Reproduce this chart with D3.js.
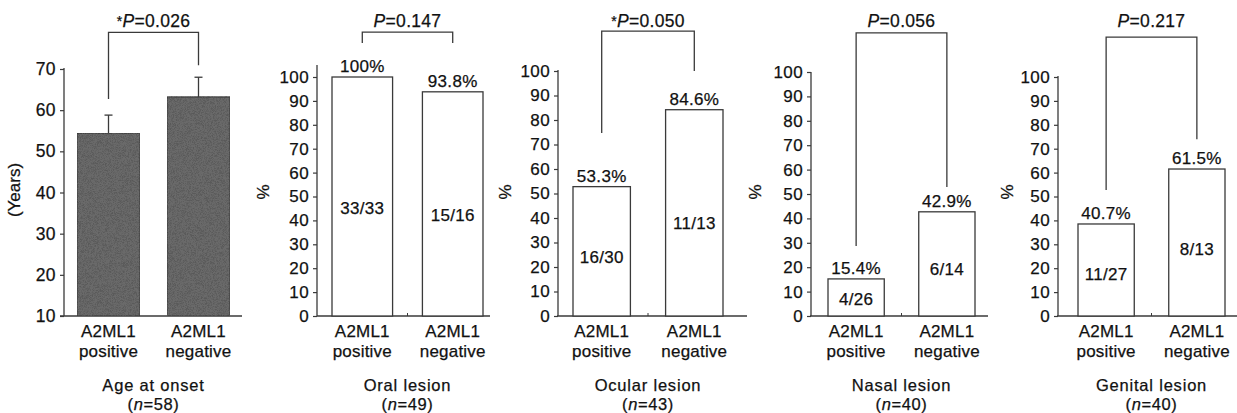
<!DOCTYPE html>
<html lang="en">
  <head>
    <meta charset="UTF-8" />
    <title>A2ML1 panels</title>
    <script src="https://cdn.jsdelivr.net/npm/d3@7"></script>
    <style>
      body { margin: 0; background: #fff; }
      text { font-family: "Liberation Sans", Arial, Helvetica, sans-serif; fill: #111; stroke: #111; stroke-width: 0.25px; }
    </style>
  </head>
  <body>
    <svg id="container" width="1237" height="413"></svg>
    <script>
      // values
      const categories = ["A2ML1 positive", "A2ML1 negative"];
      const panelTitles = ["Age at onset", "Oral lesion", "Ocular lesion", "Nasal lesion", "Genital lesion"];
      const panelN = [58, 49, 43, 40, 40];
      const pValues = ["0.026", "0.147", "0.050", "0.056", "0.217"];
      const significant = [true, false, true, false, false];

      // age panel: mean and top of the error bar (years)
      const ageMeans = [54.4, 63.2];
      const ageErrTop = [58.8, 68];
      const ageTicks = [10, 20, 30, 40, 50, 60, 70];

      // lesion panels: drawn bar height (%), printed percentage, counts
      const lesionValues = [[100, 93.8], [52.8, 84.2], [15.2, 42.7], [38.5, 61.5]];
      const lesionLabels = [["100%", "93.8%"], ["53.3%", "84.6%"], ["15.4%", "42.9%"], ["40.7%", "61.5%"]];
      const lesionCounts = [["33/33", "15/16"], ["16/30", "11/13"], ["4/26", "6/14"], ["11/27", "8/13"]];
      const pctTicks = [0, 10, 20, 30, 40, 50, 60, 70, 80, 90, 100];

      // layout of each panel (pixels), bracket in data units [top, leftEnd, rightEnd]
      const panels = [
        { axisX: 64, top: 69, lineTop: 68, xStart: 60, xEnd: 242, barL: 77, barR: 230, pad: 0.3, bracket: [78.9, 62.7, 70.9], yLabelX: 14, yLabel: "(Years)" },
        { axisX: 317, top: 77, lineTop: 65, xStart: 317, xEnd: 490, barL: 332, barR: 483, pad: 0.33, bracket: [118.8, 114.2, 114.2], yLabelX: 263, yLabel: "%" },
        { axisX: 558, top: 71, lineTop: 70, xStart: 557, xEnd: 747, barL: 573, barR: 723, pad: 0.38, bracket: [116.3, 74.7, 100], yLabelX: 505, yLabel: "%" },
        { axisX: 811, top: 72, lineTop: 72, xStart: 810, xEnd: 988, barL: 828, barR: 975, pad: 0.38, bracket: [116, 28.7, 52.9], yLabelX: 755, yLabel: "%" },
        { axisX: 1058, top: 77, lineTop: 76, xStart: 1057, xEnd: 1237, barL: 1078, barR: 1225, pad: 0.38, bracket: [116.7, 52.7, 74], yLabelX: 1007, yLabel: "%" },
      ];

      const baseY = 316;
      const ink = "#3a3a3a";
      const svg = d3.select("#container");

      // grainy fill for the age bars
      const defs = svg.append("defs");
      const f = defs.append("filter").attr("id", "grain").attr("x", 0).attr("y", 0).attr("width", 1).attr("height", 1);
      f.append("feTurbulence").attr("type", "fractalNoise").attr("baseFrequency", 1.6).attr("numOctaves", 2).attr("seed", 3).attr("result", "noise");
      f.append("feColorMatrix").attr("in", "noise").attr("type", "matrix")
        .attr("values", "0 0 0 0 0.1  0 0 0 0 0.1  0 0 0 0 0.1  0 0 0 -3.2 1.9").attr("result", "dark");
      f.append("feComposite").attr("in", "dark").attr("in2", "SourceGraphic").attr("operator", "in").attr("result", "spots");
      f.append("feMerge").selectAll("feMergeNode").data(["SourceGraphic", "spots"]).enter()
        .append("feMergeNode").attr("in", (d) => d);

      panels.forEach((p, i) => {
        const g = svg.append("g");
        const isAge = i === 0;
        const ticks = isAge ? ageTicks : pctTicks;
        const y = d3.scaleLinear()
          .domain(isAge ? [10, 70] : [0, 100])
          .range([baseY, p.top]);
        const x = d3.scaleBand().domain(categories).range([p.barL, p.barR]).paddingInner(p.pad).paddingOuter(0);
        const values = isAge ? ageMeans : lesionValues[i - 1];

        // y axis
        const axis = g.append("g")
          .attr("transform", `translate(${p.axisX},0)`)
          .call(d3.axisLeft(y).tickValues(ticks).tickSize(4).tickPadding(4));
        axis.select(".domain").remove();
        axis.selectAll("line").attr("stroke", ink).attr("stroke-width", 1.2);
        axis.selectAll("text").style("font-size", isAge ? "17.5px" : "17px").style("letter-spacing", "0.4px")
          .attr("fill", "#111").attr("font-family", null);
        g.append("line").attr("x1", p.axisX).attr("x2", p.axisX).attr("y1", p.lineTop).attr("y2", baseY)
          .attr("stroke", ink).attr("stroke-width", 1.3);

        // x baseline with small middle tick
        g.append("line").attr("x1", p.xStart).attr("x2", p.xEnd).attr("y1", baseY).attr("y2", baseY)
          .attr("stroke", ink).attr("stroke-width", 1.4);
        if (!isAge) {
          const mid = (x(categories[0]) + x.bandwidth() + x(categories[1])) / 2;
          g.append("line").attr("x1", mid).attr("x2", mid).attr("y1", baseY).attr("y2", baseY - 3)
            .attr("stroke", ink).attr("stroke-width", 1);
        }

        // y label
        g.append("text")
          .attr("transform", `translate(${p.yLabelX},${isAge ? 190 : 192}) rotate(-90)`)
          .attr("text-anchor", "middle").attr("dominant-baseline", "central")
          .style("font-size", "17px").text(p.yLabel);

        // bars
        g.selectAll("rect.bar").data(values).enter().append("rect")
          .attr("class", "bar")
          .attr("x", (d, j) => x(categories[j]))
          .attr("width", x.bandwidth())
          .attr("y", (d) => y(d))
          .attr("height", (d) => baseY - y(d))
          .attr("fill", isAge ? "#6a6a6a" : "#fff")
          .attr("filter", isAge ? "url(#grain)" : null)
          .attr("stroke", ink).attr("stroke-width", 1.3);

        const cx = (j) => x(categories[j]) + x.bandwidth() / 2;

        if (isAge) {
          // error bars
          ageErrTop.forEach((e, j) => {
            g.append("line").attr("x1", cx(j)).attr("x2", cx(j)).attr("y1", y(values[j])).attr("y2", y(e))
              .attr("stroke", ink).attr("stroke-width", 1.3);
            g.append("line").attr("x1", cx(j) - 4).attr("x2", cx(j) + 4).attr("y1", y(e)).attr("y2", y(e))
              .attr("stroke", ink).attr("stroke-width", 1.3);
          });
        } else {
          const labels = lesionLabels[i - 1];
          const counts = lesionCounts[i - 1];
          g.selectAll("text.pct").data(labels).enter().append("text")
            .attr("class", "pct")
            .attr("x", (d, j) => cx(j))
            .attr("y", (d, j) => y(values[j]) - 5)
            .attr("text-anchor", "middle").style("font-size", "17px").style("letter-spacing", "0.3px")
            .text((d) => d);
          g.selectAll("text.cnt").data(counts).enter().append("text")
            .attr("class", "cnt")
            .attr("x", (d, j) => cx(j))
            .attr("y", (d, j) => y(values[j] * 0.45))
            .attr("dominant-baseline", "central")
            .attr("text-anchor", "middle").style("font-size", "17px").style("letter-spacing", "0.3px")
            .text((d) => d);
        }

        // significance bracket
        const [bt, bl, br] = p.bracket;
        const path = d3.path();
        path.moveTo(cx(0), y(bl));
        path.lineTo(cx(0), y(bt));
        path.lineTo(cx(1), y(bt));
        path.lineTo(cx(1), y(br));
        g.append("path").attr("d", path.toString()).attr("fill", "none")
          .attr("stroke", ink).attr("stroke-width", 1.3);

        const pt = g.append("text").attr("x", (cx(0) + cx(1)) / 2).attr("y", 27)
          .attr("text-anchor", "middle").style("font-size", "17.5px").style("letter-spacing", "0.3px");
        if (significant[i]) pt.append("tspan").style("font-size", "14px").attr("dy", -1).text("*");
        pt.append("tspan").style("font-style", "italic").attr("dy", significant[i] ? 1 : 0).text("P");
        pt.append("tspan").text("=" + pValues[i]);

        // category labels
        categories.forEach((c, j) => {
          const parts = c.split(" ");
          const t = g.append("text").attr("x", cx(j)).attr("y", 337)
            .attr("text-anchor", "middle").style("font-size", "17px").style("letter-spacing", "0.2px");
          t.append("tspan").attr("x", cx(j)).text(parts[0]);
          t.append("tspan").attr("x", cx(j)).attr("dy", 20).text(parts[1]);
        });

        // panel title
        const tx = (p.barL + p.barR) / 2;
        g.append("text").attr("x", tx).attr("y", 391).attr("text-anchor", "middle")
          .style("font-size", "16.5px").style("letter-spacing", "0.8px").text(panelTitles[i]);
        const nt = g.append("text").attr("x", tx).attr("y", 410).attr("text-anchor", "middle")
          .style("font-size", "16.5px").style("letter-spacing", "0.6px");
        nt.append("tspan").text("(");
        nt.append("tspan").style("font-style", "italic").text("n");
        nt.append("tspan").text("=" + panelN[i] + ")");
      });
    </script>
  </body>
</html>
